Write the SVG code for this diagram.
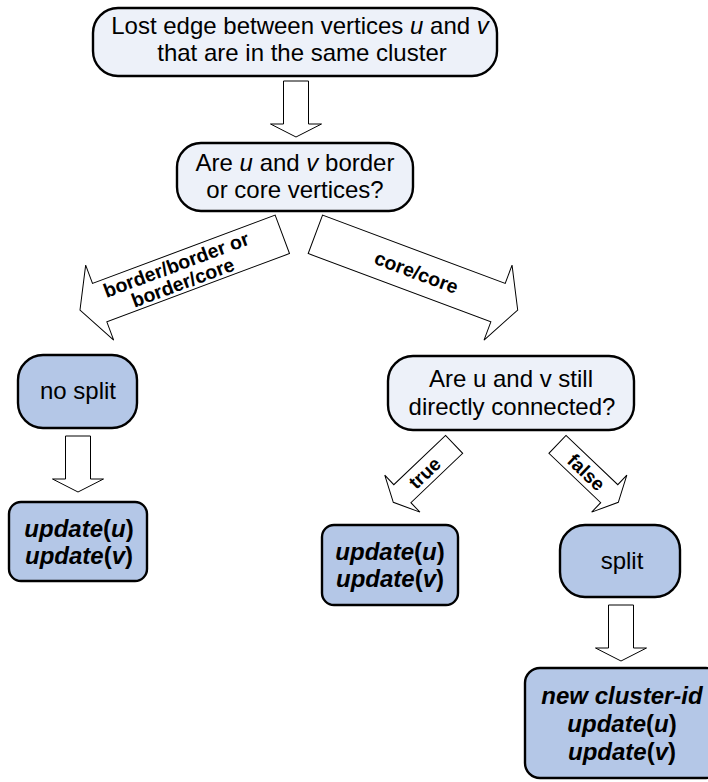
<svg xmlns="http://www.w3.org/2000/svg" width="708" height="782" viewBox="0 0 708 782">
<style>
.n{stroke:#000;stroke-width:2.4}
.light{fill:#EDF1F9}
.dark{fill:#B4C7E7}
.t{font-family:"Liberation Sans",Arial,sans-serif;font-size:24px;fill:#000;text-anchor:middle}
.b{font-weight:bold}
.i{font-style:italic}
.arr{fill:#fff;stroke:#000;stroke-width:1}
.lbl{font-family:"Liberation Sans",Arial,sans-serif;font-size:19.5px;font-weight:bold;fill:#000;text-anchor:middle}
.sl{font-size:19px}
</style>
<defs>
<path id="down" d="M0,0 L-25.5,-13 L-12.5,-13 L-12.5,-56 L12.5,-56 L12.5,-13 L25.5,-13 Z"/>
</defs>
<rect width="708" height="782" fill="#fff"/>
<g id="connectors">
<use href="#down" class="arr" x="296" y="137"/>
<use href="#down" class="arr" x="78" y="492"/>
<use href="#down" class="arr" x="621" y="661"/>
<g transform="translate(80,310) rotate(-20.5)">
<path class="arr" d="M0,0 L21,-40 L21,-20.5 L216,-20.5 L216,20.5 L21,20.5 L21,40 Z"/>
<text class="lbl" x="106" y="-2">border/border or</text>
<text class="lbl" x="106" y="17">border/core</text>
</g>
<g transform="translate(517.7,310) rotate(20.5)">
<path class="arr" d="M0,0 L-21,-40 L-21,-20.5 L-216,-20.5 L-216,20.5 L-21,20.5 L-21,40 Z"/>
<text class="lbl" x="-108" y="7">core/core</text>
</g>
<g transform="translate(393.3,502.3) rotate(-43.6)">
<path class="arr" d="M0,0 L12.5,-25.5 L12.5,-12.4 L84,-12.4 L84,12.4 L12.5,12.4 L12.5,25.5 Z"/>
<text class="lbl sl" x="43" y="7">true</text>
</g>
<g transform="translate(618.3,502.3) rotate(43.6)">
<path class="arr" d="M0,0 L-12.5,-25.5 L-12.5,-12.4 L-84,-12.4 L-84,12.4 L-12.5,12.4 L-12.5,25.5 Z"/>
<text class="lbl sl" x="-44" y="7">false</text>
</g>
</g>
<g id="n-lost">
<rect class="n light" x="93" y="8" width="404" height="68" rx="25"/>
<text class="t" x="300" y="34">Lost edge between vertices <tspan class="i">u</tspan> and <tspan class="i">v</tspan></text>
<text class="t" x="302" y="61">that are in the same cluster</text>
</g>
<g id="n-type">
<rect class="n light" x="177" y="143" width="236" height="68" rx="24"/>
<text class="t" x="295" y="171">Are <tspan class="i">u</tspan> and <tspan class="i">v</tspan> border</text>
<text class="t" x="295" y="198">or core vertices?</text>
</g>
<g id="n-nosplit">
<rect class="n dark" x="18" y="355" width="119" height="73" rx="25"/>
<text class="t" x="78" y="399">no split</text>
</g>
<g id="n-upd1">
<rect class="n dark" x="9" y="502" width="138" height="79" rx="12"/>
<text class="t b" x="79" y="537"><tspan class="i">update</tspan>(<tspan class="i">u</tspan>)</text>
<text class="t b" x="79" y="564"><tspan class="i">update</tspan>(<tspan class="i">v</tspan>)</text>
</g>
<g id="n-conn">
<rect class="n light" x="388" y="356" width="246" height="74" rx="25"/>
<text class="t" x="511" y="387">Are u and v still</text>
<text class="t" x="512" y="415">directly connected?</text>
</g>
<g id="n-upd2">
<rect class="n dark" x="322" y="525" width="136" height="80" rx="12"/>
<text class="t b" x="390" y="560"><tspan class="i">update</tspan>(<tspan class="i">u</tspan>)</text>
<text class="t b" x="390" y="587"><tspan class="i">update</tspan>(<tspan class="i">v</tspan>)</text>
</g>
<g id="n-split">
<rect class="n dark" x="560" y="525" width="120" height="72" rx="25"/>
<text class="t" x="622" y="569">split</text>
</g>
<g id="n-newid">
<rect class="n dark" x="525" y="668" width="196" height="110" rx="15"/>
<text class="t b i" x="622" y="704">new cluster-id</text>
<text class="t b" x="622" y="732"><tspan class="i">update</tspan>(<tspan class="i">u</tspan>)</text>
<text class="t b" x="622" y="760"><tspan class="i">update</tspan>(<tspan class="i">v</tspan>)</text>
</g>
</svg>
